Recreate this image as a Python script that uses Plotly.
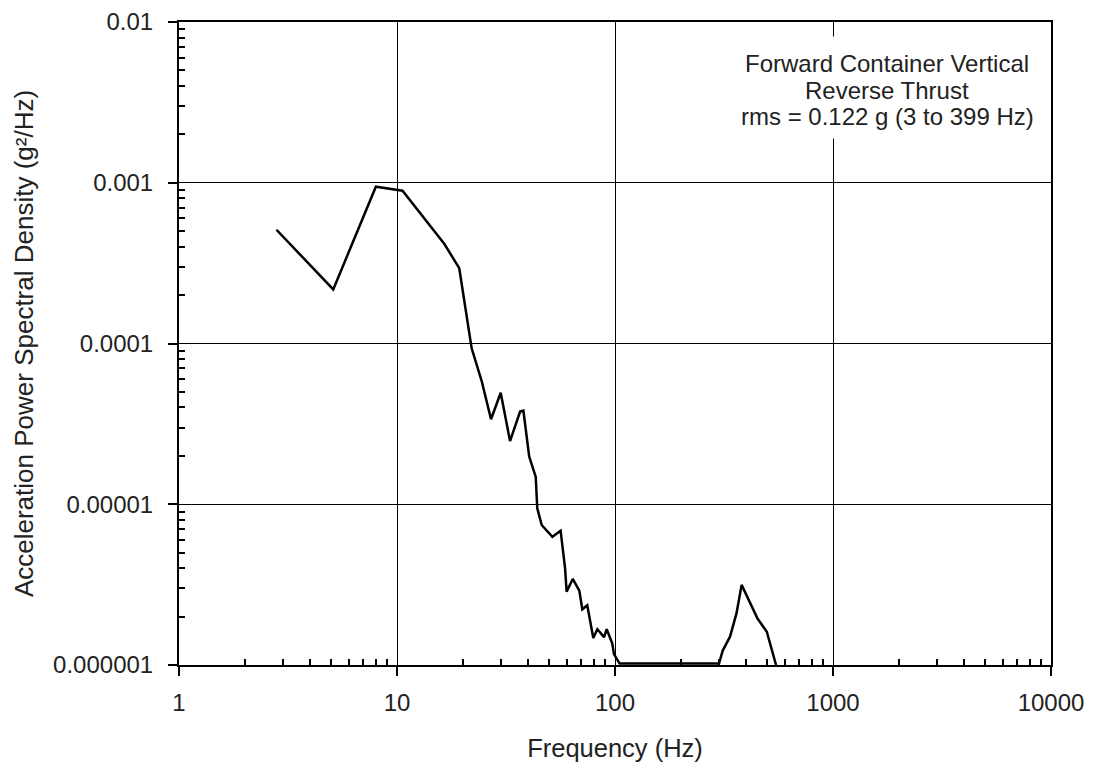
import plotly.graph_objects as go

freq_hz = [2.8, 5.1, 8.0, 10.6, 16.5, 19.3, 22.0, 24.5, 27.0, 29.9, 33.0, 36.7, 38.0,
           40.4, 43.3, 44.0, 46.1, 51.6, 56.3, 59.0, 60.0, 64.0, 68.6, 70.8, 74.6,
           79.5, 83.0, 89.1, 91.6, 97.2, 98.9, 102.5, 105, 300, 312, 337, 361, 381,
           450, 497, 548]
psd = [5.1e-4, 2.17e-4, 9.45e-4, 8.93e-4, 4.16e-4, 2.94e-4, 9.33e-5, 5.79e-5,
       3.38e-5, 4.94e-5, 2.47e-5, 3.77e-5, 3.82e-5, 1.98e-5, 1.48e-5, 9.44e-6,
       7.43e-6, 6.28e-6, 6.85e-6, 4.0e-6, 2.86e-6, 3.43e-6, 2.9e-6, 2.22e-6,
       2.35e-6, 1.47e-6, 1.67e-6, 1.49e-6, 1.67e-6, 1.36e-6, 1.17e-6, 1.07e-6,
       1.02e-6, 1.02e-6, 1.23e-6, 1.5e-6, 2.1e-6, 3.15e-6, 1.95e-6, 1.61e-6, 1.0e-6]

x_ticks = [1, 10, 100, 1000, 10000]
x_tick_text = ["1", "10", "100", "1000", "10000"]
y_ticks = [1e-6, 1e-5, 1e-4, 1e-3, 1e-2]
y_tick_text = ["0.000001", "0.00001", "0.0001", "0.001", "0.01"]

x_minor = [m * 10 ** d for d in range(4) for m in range(2, 10)]
y_minor = [m * 10 ** d for d in range(-6, -2) for m in range(2, 10)]

annotation_lines = ["Forward Container Vertical", "Reverse Thrust",
                    "rms = 0.122 g (3 to 399 Hz)"]

FONT = "Liberation Sans, Arial, sans-serif"
TXT = "#222222"

fig = go.Figure()
fig.add_trace(go.Scatter(x=freq_hz, y=psd, mode="lines",
                         line=dict(color="black", width=2.5), showlegend=False))

annots = [dict(xref="paper", yref="paper", x=0.812, y=0.8981,
               xanchor="center", yanchor="middle", text="", showarrow=False,
               width=305, height=101, bgcolor="white", borderpad=0)]
for txt, yp in zip(annotation_lines, [0.9362, 0.8942, 0.8523]):
    annots.append(dict(xref="paper", yref="paper", x=0.812, y=yp,
                       xanchor="center", yanchor="middle", text=txt,
                       showarrow=False, font=dict(size=24, color=TXT)))

fig.update_layout(
    width=1096, height=765,
    margin=dict(l=179, r=45, t=22, b=100),
    paper_bgcolor="white", plot_bgcolor="white",
    font=dict(family=FONT, size=24, color=TXT),
    xaxis=dict(
        type="log", range=[0, 4],
        tickmode="array", tickvals=x_ticks, ticktext=x_tick_text,
        ticks="outside", ticklen=9, tickwidth=2, tickcolor="black",
        showgrid=True, gridcolor="black", gridwidth=1,
        showline=True, linecolor="black", linewidth=2, mirror=True,
        zeroline=False,
        ticklabelstandoff=6,
        minor=dict(tickmode="array", tickvals=x_minor, ticks="inside",
                   ticklen=6, tickwidth=2, tickcolor="black", showgrid=False),
        title=dict(text="Frequency (Hz)", standoff=24, font=dict(size=25.5)),
        automargin=False,
    ),
    yaxis=dict(
        type="log", range=[-6, -2],
        tickmode="array", tickvals=y_ticks, ticktext=y_tick_text,
        ticks="outside", ticklen=9, tickwidth=2, tickcolor="black",
        showgrid=True, gridcolor="black", gridwidth=1,
        showline=True, linecolor="black", linewidth=2, mirror=True,
        zeroline=False,
        ticklabelstandoff=10,
        minor=dict(tickmode="array", tickvals=y_minor, ticks="inside",
                   ticklen=6, tickwidth=2, tickcolor="black", showgrid=False),
        title=dict(text="Acceleration Power Spectral Density (g²/Hz)", standoff=12,
                   font=dict(size=26)),
        automargin=False,
    ),
    annotations=annots,
)

fig.write_html("out.html")
